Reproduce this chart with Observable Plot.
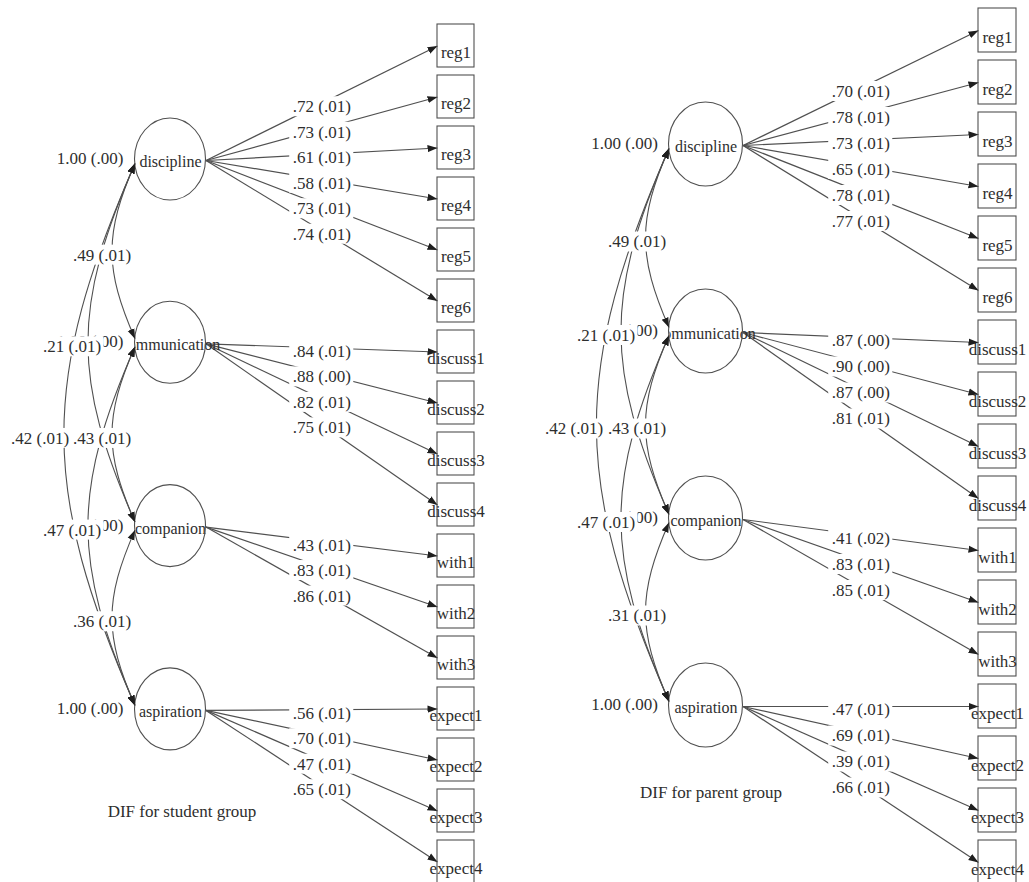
<!DOCTYPE html>
<html><head><meta charset="utf-8">
<script src="https://cdn.jsdelivr.net/npm/d3@7"></script>
<script src="https://cdn.jsdelivr.net/npm/@observablehq/plot@0.6"></script>
<style>html,body{margin:0;padding:0;background:#fff;} #chart svg{display:block}</style>
</head><body><div id="chart"></div>
<script>
// ---------------- data ----------------
const latentNames = ["discipline", "communication", "companion", "aspiration"];
const indicatorNames = ["reg1","reg2","reg3","reg4","reg5","reg6","discuss1","discuss2","discuss3","discuss4","with1","with2","with3","expect1","expect2","expect3","expect4"];
const indicatorFactor = [0,0,0,0,0,0,1,1,1,1,2,2,2,3,3,3,3];

const studentLoading   = [.72,.73,.61,.58,.73,.74, .84,.88,.82,.75, .43,.83,.86, .56,.70,.47,.65];
const studentLoadingSE = [.01,.01,.01,.01,.01,.01, .01,.00,.01,.01, .01,.01,.01, .01,.01,.01,.01];
const parentLoading    = [.70,.78,.73,.65,.78,.77, .87,.90,.87,.81, .41,.83,.85, .47,.69,.39,.66];
const parentLoadingSE  = [.01,.01,.01,.01,.01,.01, .00,.00,.00,.01, .02,.01,.01, .01,.01,.01,.01];

const covPairs = [[0,1],[1,2],[2,3],[0,2],[1,3],[0,3]];
const studentCov   = [.49,.43,.36,.21,.47,.42];
const studentCovSE = [.01,.01,.01,.01,.01,.01];
const parentCov    = [.49,.43,.31,.21,.47,.42];
const parentCovSE  = [.01,.01,.01,.01,.01,.01];

const studentVar   = [1.00,1.00,1.00,1.00];
const studentVarSE = [.00,.00,.00,.00];
const parentVar    = [1.00,1.00,1.00,1.00];
const parentVarSE  = [.00,.00,.00,.00];

const groupTitles = ["DIF for student group", "DIF for parent group"];

// ---------------- layout (positions / sizes) ----------------
const layouts = [
  {cx: 170, y0: 160, dy: 183.3, rx: 35.5, ry: 41, boxX: 437, boxW: 37, boxY0: 24, boxStep: 51, boxH: 43,
   covLabelDx: [-33, -63, -95], varLabelDx: -45, titleX: 181.5, titleY: 811},
  {cx: 705.5, y0: 145, dy: 187, rx: 37, ry: 42, boxX: 978, boxW: 38, boxY0: 8, boxStep: 52, boxH: 44,
   covLabelDx: [-32, -63, -95], varLabelDx: -44.5, titleX: 710.5, titleY: 792}
];

const FONT = '"Liberation Serif", "Times New Roman", Times, serif';
const LINE = "#505050", INK = "#2e2e2e";
const fmt = v => v.toFixed(2).replace(/^0\./, ".");
const lab = (v, se) => `${fmt(v)} (${fmt(se)})`;
const cv = document.createElement("canvas").getContext("2d");
function textWidth(s, size) { cv.font = `${size}px "Liberation Serif"`; return cv.measureText(s).width; }

const groups = [
  {title: groupTitles[0], loading: studentLoading, loadingSE: studentLoadingSE, cov: studentCov, covSE: studentCovSE, variance: studentVar, varianceSE: studentVarSE, L: layouts[0]},
  {title: groupTitles[1], loading: parentLoading, loadingSE: parentLoadingSE, cov: parentCov, covSE: parentCovSE, variance: parentVar, varianceSE: parentVarSE, L: layouts[1]}
];

const LABEL_SIZE = 17;
const indicatorRows = [], latentText = [], loadingRows = [], covRows = [], varRows = [], labelRows = [], titleRows = [];
const ellipseMarks = [];
groups.forEach((g) => {
  const L = g.L;
  const ly = i => L.y0 + i * L.dy;
  const left = L.cx - L.rx;
  const lat = latentNames.map((name, i) => ({name, cx: L.cx, y: ly(i)}));
  latentText.push(...lat);
  ellipseMarks.push(Plot.rect(lat, {
    x1: d => d.cx - L.rx, x2: d => d.cx + L.rx, y1: d => d.y - 1 - L.ry, y2: d => d.y - 1 + L.ry,
    rx: L.rx, ry: L.ry, fill: "none", stroke: LINE, strokeWidth: 1.1
  }));
  indicatorNames.forEach((name, j) => {
    const top = L.boxY0 + j * L.boxStep;
    const yc = top + L.boxH / 2;
    indicatorRows.push({name, x1: L.boxX, x2: L.boxX + L.boxW, y1: top, y2: top + L.boxH, xc: L.boxX + L.boxW / 2, yc});
    const sx = L.cx + L.rx, sy = ly(indicatorFactor[j]);
    loadingRows.push({x1: sx, y1: sy, x2: L.boxX, y2: yc});
    labelRows.push({text: lab(g.loading[j], g.loadingSE[j]), x: (sx + L.boxX) / 2, y: (sy + yc) / 2 + 3.5});
  });
  covPairs.forEach(([a, b], k) => {
    covRows.push({x1: left, y1: ly(a) + 3, x2: left, y2: ly(b) - 5});
    labelRows.push({text: lab(g.cov[k], g.covSE[k]), x: left + L.covLabelDx[b - a - 1], y: (ly(a) + ly(b)) / 2 + 3});
  });
  latentNames.forEach((_, i) => varRows.push({text: lab(g.variance[i], g.varianceSE[i]), x: left + L.varLabelDx, y: ly(i) - 2, edge: left + 1}));
  titleRows.push({text: g.title, x: L.titleX, y: L.titleY});
});
labelRows.forEach(d => d.w = textWidth(d.text, LABEL_SIZE));
varRows.forEach(d => d.w = textWidth(d.text, LABEL_SIZE));

// filled triangular arrowheads
function triangleMarker(orient) {
  return (color) => {
    const ns = "http://www.w3.org/2000/svg";
    const m = document.createElementNS(ns, "marker");
    m.setAttribute("viewBox", "-10 -5 10 10");
    m.setAttribute("markerWidth", "10");
    m.setAttribute("markerHeight", "10");
    m.setAttribute("markerUnits", "userSpaceOnUse");
    m.setAttribute("orient", orient);
    m.setAttribute("refX", "0");
    m.setAttribute("refY", "0");
    const p = document.createElementNS(ns, "path");
    p.setAttribute("d", "M-10,-3.6L0,0L-10,3.6Z");
    p.setAttribute("fill", "#1e1e1e");
    p.setAttribute("stroke", "none");
    m.appendChild(p);
    return m;
  };
}
const arrowEnd = triangleMarker("auto");
const arrowStart = triangleMarker("auto-start-reverse");

// curve bulging to the left between two points (covariance arcs)
function leftArc(k, a) {
  return (context) => {
    let pts = [];
    return {
      areaStart() {}, areaEnd() {},
      lineStart() { pts = []; },
      point(x, y) { pts.push([+x, +y]); },
      lineEnd() {
        if (pts.length < 2) return;
        const [[x0, y0], [x1, y1]] = pts;
        const d = Math.abs(y1 - y0);
        context.moveTo(x0, y0);
        context.bezierCurveTo(x0 - k * d, y0 + a * (y1 - y0), x1 - k * d, y1 - a * (y1 - y0), x1, y1);
      }
    };
  };
}

const chart = Plot.plot({
  width: 1029, height: 882, margin: 0,
  x: {type: "identity", axis: null},
  y: {type: "identity", axis: null},
  style: {fontFamily: FONT, background: "#fff", color: INK},
  marks: [
    Plot.link(loadingRows, {x1: "x1", y1: "y1", x2: "x2", y2: "y2", stroke: LINE, strokeWidth: 1.2, markerEnd: arrowEnd}),
    Plot.rect(indicatorRows, {x1: "x1", x2: "x2", y1: "y1", y2: "y2", fill: "none", stroke: LINE, strokeWidth: 1.1}),
    Plot.text(latentText, {x: "cx", y: d => d.y + 1.5, text: "name", fontSize: 16, fill: INK}),
    Plot.text(indicatorRows, {x: "xc", y: d => d.yc + 7, text: "name", fontSize: 17, fill: INK}),
    Plot.rect(varRows, {x1: d => d.x - d.w / 2 - 3, x2: "edge", y1: d => d.y - 10, y2: d => d.y + 10, fill: "#fff"}),
    Plot.text(varRows, {x: "x", y: "y", text: "text", fontSize: LABEL_SIZE, fill: INK}),
    ...ellipseMarks,
    Plot.link(covRows, {x1: "x1", y1: "y1", x2: "x2", y2: "y2", curve: leftArc(0.175, 0.4), stroke: LINE, strokeWidth: 1.1, markerStart: arrowStart, markerEnd: arrowEnd}),
    Plot.rect(labelRows, {x1: d => d.x - d.w / 2 - 3, x2: d => d.x + d.w / 2 + 3, y1: d => d.y - 10, y2: d => d.y + 10, fill: "#fff"}),
    Plot.text(labelRows, {x: "x", y: "y", text: "text", fontSize: LABEL_SIZE, fill: INK}),
    Plot.text(titleRows, {x: "x", y: "y", text: "text", fontSize: 17, fill: INK})
  ]
});
document.getElementById("chart").appendChild(chart);
</script></body></html>
